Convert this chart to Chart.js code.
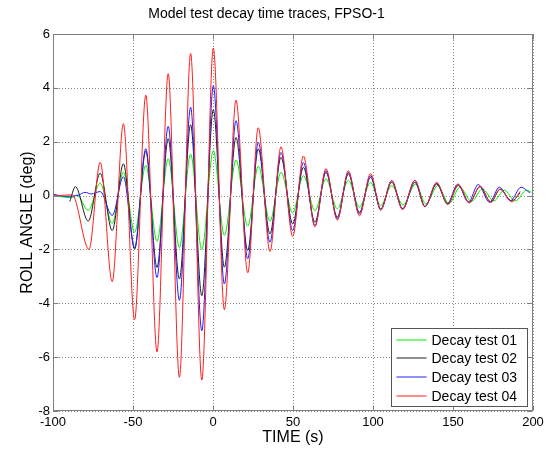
<!DOCTYPE html>
<html>
<head>
<meta charset="utf-8">
<title>Model test decay time traces, FPSO-1</title>
<script src="https://cdn.jsdelivr.net/npm/chart.js@4.4.1/dist/chart.umd.min.js"></script>
<style>
    html, body { margin: 0; padding: 0; background: #fff; }
    #wrap { width: 549px; height: 451px; }
</style>
</head>
<body>
<div id="wrap"><canvas id="chart" width="549" height="451"></canvas></div>
<script>
// 数据：读自原图的极值点 (时间 s, 横摇角 deg)
const seriesNames = ['Decay test 01', 'Decay test 02', 'Decay test 03', 'Decay test 04'];
const xTicks = [-100, -50, 0, 50, 100, 150, 200];
const yTicks = [-8, -6, -4, -2, 0, 2, 4, 6];

const time01 = [-100, -88, -85, -78, -70.5, -63, -56, -49, -42, -35, -28, -21, -14, -7, 0.2, 7.1, 14.4, 21.7, 28.3, 35.6, 42.5, 49.8, 56.5, 63.7, 70.6, 77.7, 84.6, 91.5, 98.5, 104.8, 111.7, 118.8, 126.6, 133, 140.5, 147.5, 154.3, 161.5, 168.4, 175.5, 182, 189, 196, 199];
const roll01 = [0, -0.08, 0.02, -0.55, 0.46, -1.03, 0.87, -1.37, 1.12, -1.7, 1.37, -1.93, 1.54, -2.0, 1.67, -1.48, 1.32, -1.14, 1.09, -0.95, 0.86, -0.64, 0.74, -0.56, 0.62, -0.49, 0.56, -0.43, 0.49, -0.37, 0.37, -0.35, 0.43, -0.31, 0.37, -0.3, 0.31, -0.22, 0.25, -0.2, 0.2, -0.2, 0.2, 0.12];

const time02 = [-89.5, -86, -78, -70.5, -63, -56, -49, -42, -35, -28, -21, -14, -7, 0.2, 7.1, 14.4, 21.7, 28.3, 35.6, 42.5, 49.8, 56.5, 63.7, 70.6, 77.7, 84.6, 91.5, 98.5, 104.8, 111.7, 118.5, 126.2, 132.5, 139.8, 146.7, 153.3, 160.2, 166.9, 173.7, 179.4, 186.7, 192];
const roll02 = [-0.22, 0.33, -0.95, 0.83, -1.3, 1.18, -1.99, 1.65, -2.67, 2.11, -3.1, 2.63, -3.72, 3.19, -2.66, 2.16, -2.04, 1.73, -1.42, 1.42, -1.05, 1.05, -0.99, 0.86, -0.8, 0.8, -0.62, 0.68, -0.49, 0.49, -0.48, 0.49, -0.41, 0.43, -0.32, 0.38, -0.26, 0.33, -0.24, 0.24, -0.2, 0.1];

const time03 = [-100, -92, -84, -80, -76, -70.5, -63, -56, -49, -42, -35, -28, -21, -14, -7, 0.2, 7.1, 14.4, 21.7, 28.3, 35.6, 42.5, 49.8, 56.5, 63.7, 70.6, 77.7, 84.6, 91.5, 98.5, 104.8, 111.7, 118.5, 126.2, 132.5, 139.8, 146.5, 153, 159.6, 165.8, 172.8, 179, 186, 192.5, 198];
const roll03 = [0.05, -0.03, 0.02, 0.12, 0.06, 0.15, -0.74, 0.7, -1.93, 1.74, -3.04, 2.57, -3.89, 3.28, -5.02, 4.08, -3.28, 2.78, -2.35, 1.98, -1.73, 1.6, -1.3, 1.23, -1.11, 0.93, -0.86, 0.86, -0.68, 0.74, -0.53, 0.56, -0.5, 0.56, -0.41, 0.47, -0.29, 0.43, -0.25, 0.41, -0.25, 0.31, -0.19, 0.31, 0.1];

const time04 = [-100, -88, -77.5, -70.5, -63, -56, -49, -42, -35, -28, -21, -14, -7, 0.2, 7.1, 14.4, 21.7, 28.3, 35.6, 42.5, 49.8, 56.5, 63.7, 70.6, 77.7, 84.6, 91.5, 98.5, 104.8, 111.7, 118.5, 126.2, 132.5, 139.8, 146.7, 153.3, 160.2, 166.9, 173.7, 179.4, 186.7, 192];
const roll04 = [-0.02, 0.03, -2.0, 1.24, -3.2, 2.67, -4.6, 3.73, -5.8, 4.53, -6.75, 5.28, -6.85, 5.48, -4.24, 3.54, -2.87, 2.52, -2.08, 1.81, -1.52, 1.47, -1.16, 1.0, -0.91, 0.92, -0.75, 0.82, -0.54, 0.55, -0.52, 0.57, -0.41, 0.49, -0.33, 0.41, -0.27, 0.35, -0.25, 0.23, -0.23, 0.15];

const FONT = "'Liberation Sans', Arial, sans-serif";

function toPoints(t, v) {
    return t.map((x, i) => ({ x: x, y: v[i] }));
}

// 点状网格线（画在曲线下面）
const gridPlugin = {
    id: 'dotGrid',
    beforeDatasetsDraw(chart) {
        const { ctx, chartArea: a, scales } = chart;
        ctx.save();
        ctx.strokeStyle = 'rgba(0,0,0,0.45)';
        ctx.lineWidth = 1;
        ctx.setLineDash([1, 2]);
        ctx.beginPath();
        scales.x.ticks.forEach(tk => {
            const px = Math.round(scales.x.getPixelForValue(tk.value)) + 0.5;
            ctx.moveTo(px, a.top); ctx.lineTo(px, a.bottom);
        });
        scales.y.ticks.forEach(tk => {
            const py = Math.round(scales.y.getPixelForValue(tk.value)) + 0.5;
            ctx.moveTo(a.left, py); ctx.lineTo(a.right, py);
        });
        ctx.stroke();
        ctx.restore();
    }
};

// 坐标框、内刻度
const framePlugin = {
    id: 'frame',
    afterDatasetsDraw(chart) {
        const { ctx, chartArea: a, scales } = chart;
        const l = Math.round(a.left) + 0.5, r = Math.round(a.right) - 0.5;
        const t = Math.round(a.top) + 0.5, b = Math.round(a.bottom) - 0.5;
        ctx.save();
        ctx.strokeStyle = '#808080';
        ctx.lineWidth = 1;
        ctx.beginPath();
        scales.x.ticks.forEach(tk => {
            const px = Math.round(scales.x.getPixelForValue(tk.value)) + 0.5;
            ctx.moveTo(px, b); ctx.lineTo(px, b - 5);
            ctx.moveTo(px, t); ctx.lineTo(px, t + 5);
        });
        scales.y.ticks.forEach(tk => {
            const py = Math.round(scales.y.getPixelForValue(tk.value)) + 0.5;
            ctx.moveTo(l, py); ctx.lineTo(l + 5, py);
            ctx.moveTo(r, py); ctx.lineTo(r - 5, py);
        });
        ctx.stroke();
        ctx.strokeRect(l, t, r - l, b - t);
        ctx.restore();
    }
};

// 图例（放在绘图区右下角）
const legendPlugin = {
    id: 'boxLegend',
    afterDraw(chart) {
        const { ctx, chartArea: a } = chart;
        const w = 136, h = 78;
        const x0 = Math.round(a.right) - 141.5, y0 = Math.round(a.bottom) - 82.5;
        ctx.save();
        ctx.fillStyle = '#fff';
        ctx.fillRect(x0, y0, w, h);
        ctx.strokeStyle = '#555';
        ctx.lineWidth = 1;
        ctx.strokeRect(x0, y0, w, h);
        ctx.font = '14px ' + FONT;
        ctx.textBaseline = 'middle';
        chart.data.datasets.forEach((ds, i) => {
            const y = Math.round(y0 + 11 + i * 18.8);
            ctx.beginPath();
            ctx.strokeStyle = ds.borderColor;
            ctx.moveTo(x0 + 5, y);
            ctx.lineTo(x0 + 35, y);
            ctx.stroke();
            ctx.fillStyle = '#000';
            ctx.fillText(ds.label, x0 + 40, y + 1);
        });
        ctx.restore();
    }
};

const colors = ['rgb(0,235,0)', 'rgb(30,30,30)', 'rgb(30,30,255)', 'rgb(255,30,30)'];
const allTimes = [time01, time02, time03, time04];
const allRolls = [roll01, roll02, roll03, roll04];

const datasets = seriesNames.map((name, i) => ({
    label: name,
    data: toPoints(allTimes[i], allRolls[i]),
    borderColor: colors[i],
    backgroundColor: colors[i],
    borderWidth: 1,
    pointRadius: 0,
    fill: false,
    cubicInterpolationMode: 'monotone',
    order: 4 - i
}));

const chart = new Chart(document.getElementById('chart').getContext('2d'), {
    type: 'line',
    data: { datasets: datasets },
    options: {
        responsive: false,
        animation: false,
        devicePixelRatio: 1,
        layout: { padding: { left: 0, right: 16, top: 0, bottom: 0 } },
        plugins: {
            legend: { display: false },
            tooltip: { enabled: false },
            title: {
                display: true,
                text: 'Model test decay time traces, FPSO-1',
                color: '#000',
                font: { family: FONT, size: 14, weight: 'normal' },
                padding: { top: 6, bottom: 11.2 }
            }
        },
        scales: {
            x: {
                type: 'linear',
                min: -100,
                max: 200,
                afterBuildTicks: s => { s.ticks = xTicks.map(v => ({ value: v })); },
                afterFit: s => { s.height = 40; },
                grid: { display: false, drawTicks: false },
                border: { display: false },
                ticks: { color: '#000', font: { family: FONT, size: 13 }, padding: 4, maxRotation: 0 },
                title: {
                    display: true,
                    text: 'TIME (s)',
                    color: '#000',
                    font: { family: FONT, size: 16 },
                    padding: { top: 4, bottom: 4 }
                }
            },
            y: {
                type: 'linear',
                min: -8,
                max: 6,
                afterBuildTicks: s => { s.ticks = yTicks.map(v => ({ value: v })); },
                afterFit: s => { s.width = 53; },
                grid: { display: false, drawTicks: false },
                border: { display: false },
                ticks: { color: '#000', font: { family: FONT, size: 13 }, padding: 3 },
                title: {
                    display: true,
                    text: 'ROLL ANGLE (deg)',
                    color: '#000',
                    font: { family: FONT, size: 16 },
                    padding: { top: 18, bottom: 0 }
                }
            }
        }
    },
    plugins: [gridPlugin, framePlugin, legendPlugin]
});
</script>
</body>
</html>
